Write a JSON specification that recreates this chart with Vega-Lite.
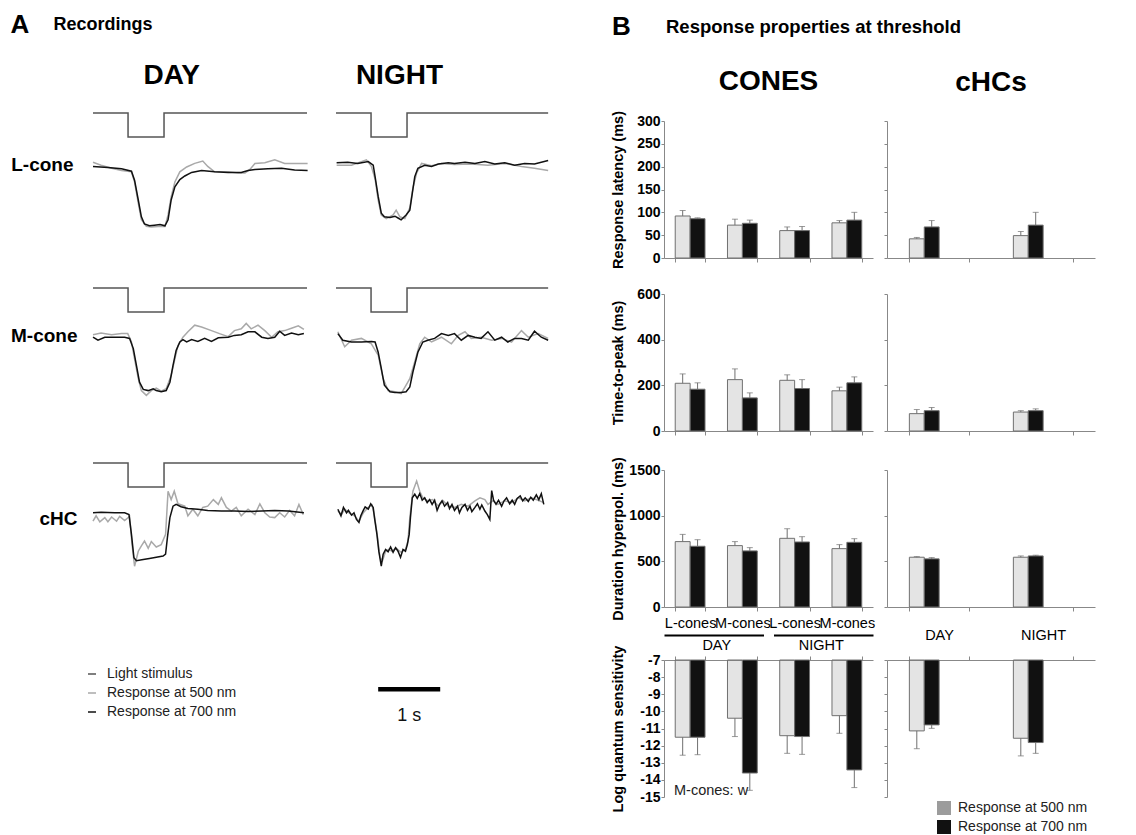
{
"$schema": "https://vega.github.io/schema/vega-lite/v6.json",
"padding": {"left": 10, "top": 12, "right": 5, "bottom": 0},
"background": "white",
"datasets": {
"traces": [
{"cell":"L-cone","cond":"DAY","s":"stim","t":[0,0.565,1.145,3.45],"v":[1,0,1,1]},
{"cell":"L-cone","cond":"NIGHT","s":"stim","t":[0,0.565,1.145,3.42],"v":[1,0,1,1]},
{"cell":"M-cone","cond":"DAY","s":"stim","t":[0,0.565,1.145,3.45],"v":[1,0,1,1]},
{"cell":"M-cone","cond":"NIGHT","s":"stim","t":[0,0.565,1.145,3.42],"v":[1,0,1,1]},
{"cell":"cHC","cond":"DAY","s":"stim","t":[0,0.565,1.145,3.45],"v":[1,0,1,1]},
{"cell":"cHC","cond":"NIGHT","s":"stim","t":[0,0.565,1.145,3.42],"v":[1,0,1,1]},
{"cell":"L-cone","cond":"DAY","s":"700","t":[0,0.24,0.46,0.62,0.67,0.73,0.78,0.83,0.91,0.99,1.08,1.16,1.21,1.26,1.32,1.40,1.48,1.59,1.75,1.96,2.18,2.39,2.50,2.61,2.82,3.04,3.25,3.46],"v":[0.01,-0.01,-0.03,-0.07,-0.22,-0.55,-0.83,-0.95,-0.98,-0.97,-0.96,-0.98,-0.88,-0.55,-0.33,-0.21,-0.15,-0.09,-0.06,-0.08,-0.09,-0.09,-0.06,-0.04,-0.03,-0.02,-0.05,-0.06]},
{"cell":"L-cone","cond":"DAY","s":"500","t":[0,0.13,0.30,0.46,0.62,0.67,0.73,0.78,0.86,0.94,1.05,1.16,1.21,1.26,1.32,1.40,1.51,1.64,1.77,1.85,1.96,2.18,2.34,2.45,2.53,2.61,2.77,2.93,3.09,3.25,3.46],"v":[0.08,0.03,-0.02,-0.06,-0.08,-0.25,-0.6,-0.88,-0.99,-1.0,-0.99,-0.99,-0.8,-0.5,-0.25,-0.08,0.0,0.06,0.10,0.01,-0.08,-0.08,-0.1,-0.1,-0.04,0.06,0.07,0.12,0.06,0.06,0.06]},
{"cell":"L-cone","cond":"NIGHT","s":"700","t":[0.01,0.19,0.35,0.52,0.60,0.63,0.68,0.73,0.78,0.87,0.95,1.00,1.05,1.13,1.19,1.23,1.27,1.32,1.43,1.54,1.65,1.81,1.91,2.08,2.24,2.40,2.56,2.72,2.88,3.04,3.20,3.42],"v":[0.07,0.08,0.06,0.09,0.03,-0.16,-0.49,-0.77,-0.83,-0.84,-0.82,-0.85,-0.88,-0.8,-0.72,-0.44,-0.16,-0.02,0.03,0.01,0.05,0.07,0.06,0.08,0.06,0.09,0.05,0.07,0.03,0.06,0.05,0.11]},
{"cell":"L-cone","cond":"NIGHT","s":"500","t":[0.01,0.25,0.49,0.57,0.63,0.68,0.73,0.81,0.92,0.97,1.03,1.11,1.19,1.24,1.30,1.38,1.54,1.70,1.91,2.18,2.45,2.72,2.99,3.20,3.42],"v":[0.03,0.03,0.12,0.01,-0.2,-0.55,-0.8,-0.86,-0.8,-0.72,-0.83,-0.86,-0.68,-0.35,-0.1,0.06,0.02,0.06,0.04,0.05,0.03,0.06,0.01,-0.02,-0.06]},
{"cell":"M-cone","cond":"DAY","s":"700","t":[0,0.08,0.19,0.35,0.51,0.59,0.65,0.70,0.75,0.81,0.89,0.97,1.02,1.10,1.18,1.24,1.29,1.34,1.40,1.45,1.51,1.59,1.69,1.80,1.91,2.02,2.18,2.28,2.39,2.50,2.61,2.72,2.82,2.93,3.01,3.09,3.20,3.31,3.40],"v":[0.08,0.03,0.08,0.08,0.08,0.06,-0.11,-0.39,-0.67,-0.79,-0.81,-0.78,-0.81,-0.83,-0.81,-0.67,-0.39,-0.14,0.0,0.04,0.0,0.04,0.01,0.06,0.01,0.07,0.08,0.11,0.12,0.17,0.17,0.08,0.06,0.08,0.18,0.11,0.15,0.12,0.14]},
{"cell":"M-cone","cond":"DAY","s":"500","t":[0,0.13,0.30,0.46,0.56,0.62,0.67,0.73,0.78,0.86,0.94,1.02,1.10,1.18,1.26,1.32,1.37,1.45,1.53,1.64,1.75,1.91,2.04,2.18,2.28,2.39,2.47,2.55,2.66,2.77,2.88,2.98,3.09,3.20,3.31,3.40],"v":[0.12,0.15,0.12,0.14,0.14,0.0,-0.28,-0.61,-0.81,-0.89,-0.81,-0.77,-0.82,-0.78,-0.56,-0.28,-0.06,0.08,0.17,0.28,0.25,0.19,0.14,0.09,0.19,0.22,0.31,0.22,0.28,0.19,0.08,0.17,0.19,0.23,0.27,0.21]},
{"cell":"M-cone","cond":"NIGHT","s":"700","t":[0.03,0.11,0.25,0.41,0.57,0.63,0.68,0.73,0.78,0.87,0.95,1.05,1.13,1.19,1.24,1.32,1.40,1.48,1.59,1.70,1.81,1.91,2.02,2.13,2.24,2.34,2.45,2.56,2.67,2.77,2.88,2.99,3.10,3.20,3.31,3.42],"v":[0.14,0.03,0.0,0.0,0.01,0.0,-0.17,-0.44,-0.72,-0.83,-0.84,-0.84,-0.83,-0.75,-0.5,-0.17,0.0,0.03,0.06,0.14,0.11,0.14,0.03,0.11,0.08,0.06,0.17,0.03,0.08,0.0,0.06,0.06,0.03,0.18,0.08,0.03]},
{"cell":"M-cone","cond":"NIGHT","s":"500","t":[0.03,0.14,0.25,0.41,0.57,0.68,0.76,0.84,0.95,1.05,1.13,1.19,1.27,1.35,1.43,1.54,1.70,1.86,1.97,2.08,2.18,2.34,2.51,2.67,2.83,2.99,3.10,3.26,3.42],"v":[0.17,-0.08,0.03,0.06,-0.03,-0.22,-0.61,-0.81,-0.83,-0.86,-0.72,-0.61,-0.33,-0.03,0.08,0.0,0.08,-0.03,0.11,0.17,0.06,0.08,0.03,0.06,0.0,0.19,0.08,0.14,0.06]},
{"cell":"cHC","cond":"DAY","s":"700","t":[0,0.13,0.35,0.51,0.58,0.62,0.66,0.70,0.81,0.91,1.02,1.13,1.17,1.20,1.24,1.29,1.34,1.42,1.53,1.69,1.85,2.07,2.28,2.50,2.72,2.93,3.15,3.40],"v":[0.07,0.08,0.07,0.07,0.04,-0.29,-0.68,-0.73,-0.71,-0.69,-0.67,-0.65,-0.62,-0.34,-0.01,0.18,0.21,0.17,0.14,0.13,0.11,0.10,0.10,0.09,0.10,0.11,0.10,0.07]},
{"cell":"cHC","cond":"DAY","s":"500","t":[0,0.05,0.11,0.19,0.24,0.30,0.38,0.43,0.51,0.59,0.63,0.67,0.73,0.78,0.83,0.89,0.94,1.02,1.10,1.17,1.21,1.26,1.31,1.37,1.48,1.53,1.61,1.69,1.77,1.85,1.94,2.02,2.07,2.15,2.23,2.31,2.39,2.50,2.61,2.69,2.77,2.85,2.93,3.01,3.09,3.17,3.25,3.32,3.39],"v":[-0.07,0.02,-0.08,-0.01,-0.08,0.0,-0.07,0.01,-0.06,0.01,-0.46,-0.82,-0.57,-0.48,-0.4,-0.52,-0.41,-0.5,-0.46,-0.29,0.43,0.29,0.43,0.22,0.18,0.02,0.13,0.02,0.16,0.18,0.29,0.21,0.32,0.16,0.1,0.16,0.02,0.13,0.04,0.22,0.07,0.0,-0.01,0.07,0.0,0.11,0.02,0.21,0.04]},
{"cell":"cHC","cond":"NIGHT","s":"700","t":[0.03,0.08,0.12,0.17,0.20,0.25,0.29,0.33,0.37,0.40,0.44,0.47,0.52,0.56,0.60,0.62,0.66,0.69,0.73,0.76,0.80,0.84,0.88,0.92,0.96,1.00,1.04,1.08,1.12,1.15,1.18,1.20,1.23,1.27,1.31,1.35,1.39,1.43,1.47,1.51,1.55,1.59,1.63,1.67,1.71,1.75,1.80,1.83,1.87,1.91,1.96,1.99,2.03,2.08,2.12,2.16,2.19,2.24,2.28,2.32,2.35,2.40,2.44,2.48,2.51,2.54,2.58,2.62,2.67,2.71,2.75,2.80,2.84,2.88,2.92,2.97,3.01,3.05,3.10,3.14,3.18,3.23,3.27,3.31,3.35],"v":[0.13,0.02,0.16,0.07,0.11,0.03,0.07,-0.04,-0.09,0.02,0.11,0.17,0.13,0.22,0.16,-0.01,-0.29,-0.57,-0.82,-0.62,-0.54,-0.58,-0.5,-0.59,-0.51,-0.57,-0.67,-0.54,-0.57,-0.46,-0.29,-0.01,0.32,0.38,0.31,0.39,0.28,0.32,0.24,0.29,0.21,0.28,0.11,0.21,0.27,0.18,0.24,0.14,0.21,0.11,0.18,0.07,0.16,0.21,0.11,0.18,0.09,0.16,0.22,0.13,0.2,0.1,0.04,-0.04,0.44,0.28,0.21,0.28,0.18,0.27,0.32,0.22,0.28,0.21,0.31,0.35,0.27,0.32,0.26,0.33,0.28,0.37,0.29,0.39,0.21]},
{"cell":"cHC","cond":"NIGHT","s":"500","t":[0.03,0.09,0.14,0.22,0.30,0.37,0.44,0.52,0.58,0.62,0.67,0.71,0.75,0.80,0.85,0.90,0.97,1.05,1.12,1.16,1.19,1.24,1.30,1.35,1.40,1.48,1.56,1.65,1.73,1.81,1.91,2.02,2.13,2.24,2.32,2.40,2.45,2.53,2.61,2.72,2.83,2.94,3.04,3.15,3.26,3.35],"v":[0.10,0.04,0.13,0.06,0.02,-0.07,0.07,0.16,0.2,0.02,-0.34,-0.68,-0.73,-0.57,-0.54,-0.57,-0.52,-0.59,-0.54,-0.4,-0.01,0.43,0.6,0.43,0.32,0.27,0.29,0.18,0.27,0.18,0.16,0.21,0.18,0.27,0.32,0.29,0.21,0.27,0.21,0.27,0.24,0.32,0.27,0.32,0.28,0.24]},
{"cell":"cHC","cond":"NIGHT","s":"bar","t":[0.68],"v":[-2.87],"t2":1.68,"tm":1.18}
],
"bars": [
{"m":"lat","cell":"cones","grp":"L-cones DAY","cond":"DAY","wave":"500 nm","value":92,"hi":104},
{"m":"lat","cell":"cones","grp":"L-cones DAY","cond":"DAY","wave":"700 nm","value":86,"hi":88},
{"m":"lat","cell":"cones","grp":"M-cones DAY","cond":"DAY","wave":"500 nm","value":72,"hi":85},
{"m":"lat","cell":"cones","grp":"M-cones DAY","cond":"DAY","wave":"700 nm","value":76,"hi":83},
{"m":"lat","cell":"cones","grp":"L-cones NIGHT","cond":"NIGHT","wave":"500 nm","value":60,"hi":68},
{"m":"lat","cell":"cones","grp":"L-cones NIGHT","cond":"NIGHT","wave":"700 nm","value":60,"hi":69},
{"m":"lat","cell":"cones","grp":"M-cones NIGHT","cond":"NIGHT","wave":"500 nm","value":77,"hi":82},
{"m":"lat","cell":"cones","grp":"M-cones NIGHT","cond":"NIGHT","wave":"700 nm","value":83,"hi":100},
{"m":"lat","cell":"cHCs","grp":"DAY","cond":"DAY","wave":"500 nm","value":42,"hi":45},
{"m":"lat","cell":"cHCs","grp":"DAY","cond":"DAY","wave":"700 nm","value":68,"hi":82},
{"m":"lat","cell":"cHCs","grp":"NIGHT","cond":"NIGHT","wave":"500 nm","value":49,"hi":58},
{"m":"lat","cell":"cHCs","grp":"NIGHT","cond":"NIGHT","wave":"700 nm","value":72,"hi":100},
{"m":"ttp","cell":"cones","grp":"L-cones DAY","cond":"DAY","wave":"500 nm","value":209,"hi":250},
{"m":"ttp","cell":"cones","grp":"L-cones DAY","cond":"DAY","wave":"700 nm","value":183,"hi":211},
{"m":"ttp","cell":"cones","grp":"M-cones DAY","cond":"DAY","wave":"500 nm","value":225,"hi":272},
{"m":"ttp","cell":"cones","grp":"M-cones DAY","cond":"DAY","wave":"700 nm","value":145,"hi":167},
{"m":"ttp","cell":"cones","grp":"L-cones NIGHT","cond":"NIGHT","wave":"500 nm","value":222,"hi":246},
{"m":"ttp","cell":"cones","grp":"L-cones NIGHT","cond":"NIGHT","wave":"700 nm","value":186,"hi":225},
{"m":"ttp","cell":"cones","grp":"M-cones NIGHT","cond":"NIGHT","wave":"500 nm","value":176,"hi":192},
{"m":"ttp","cell":"cones","grp":"M-cones NIGHT","cond":"NIGHT","wave":"700 nm","value":211,"hi":237},
{"m":"ttp","cell":"cHCs","grp":"DAY","cond":"DAY","wave":"500 nm","value":76,"hi":94},
{"m":"ttp","cell":"cHCs","grp":"DAY","cond":"DAY","wave":"700 nm","value":89,"hi":103},
{"m":"ttp","cell":"cHCs","grp":"NIGHT","cond":"NIGHT","wave":"500 nm","value":83,"hi":89},
{"m":"ttp","cell":"cHCs","grp":"NIGHT","cond":"NIGHT","wave":"700 nm","value":89,"hi":97},
{"m":"dur","cell":"cones","grp":"L-cones DAY","cond":"DAY","wave":"500 nm","value":716,"hi":795},
{"m":"dur","cell":"cones","grp":"L-cones DAY","cond":"DAY","wave":"700 nm","value":665,"hi":737},
{"m":"dur","cell":"cones","grp":"M-cones DAY","cond":"DAY","wave":"500 nm","value":672,"hi":716},
{"m":"dur","cell":"cones","grp":"M-cones DAY","cond":"DAY","wave":"700 nm","value":614,"hi":650},
{"m":"dur","cell":"cones","grp":"L-cones NIGHT","cond":"NIGHT","wave":"500 nm","value":752,"hi":857},
{"m":"dur","cell":"cones","grp":"L-cones NIGHT","cond":"NIGHT","wave":"700 nm","value":712,"hi":770},
{"m":"dur","cell":"cones","grp":"M-cones NIGHT","cond":"NIGHT","wave":"500 nm","value":639,"hi":683},
{"m":"dur","cell":"cones","grp":"M-cones NIGHT","cond":"NIGHT","wave":"700 nm","value":708,"hi":748},
{"m":"dur","cell":"cHCs","grp":"DAY","cond":"DAY","wave":"500 nm","value":545,"hi":552},
{"m":"dur","cell":"cHCs","grp":"DAY","cond":"DAY","wave":"700 nm","value":527,"hi":541},
{"m":"dur","cell":"cHCs","grp":"NIGHT","cond":"NIGHT","wave":"500 nm","value":545,"hi":559},
{"m":"dur","cell":"cHCs","grp":"NIGHT","cond":"NIGHT","wave":"700 nm","value":559,"hi":567},
{"m":"sens","cell":"cones","grp":"L-cones DAY","cond":"DAY","wave":"500 nm","value":-11.51,"hi":-12.56},
{"m":"sens","cell":"cones","grp":"L-cones DAY","cond":"DAY","wave":"700 nm","value":-11.51,"hi":-12.53},
{"m":"sens","cell":"cones","grp":"M-cones DAY","cond":"DAY","wave":"500 nm","value":-10.40,"hi":-11.47},
{"m":"sens","cell":"cones","grp":"M-cones DAY","cond":"DAY","wave":"700 nm","value":-13.60,"hi":-14.61},
{"m":"sens","cell":"cones","grp":"L-cones NIGHT","cond":"NIGHT","wave":"500 nm","value":-11.42,"hi":-12.45},
{"m":"sens","cell":"cones","grp":"L-cones NIGHT","cond":"NIGHT","wave":"700 nm","value":-11.47,"hi":-12.51},
{"m":"sens","cell":"cones","grp":"M-cones NIGHT","cond":"NIGHT","wave":"500 nm","value":-10.25,"hi":-11.28},
{"m":"sens","cell":"cones","grp":"M-cones NIGHT","cond":"NIGHT","wave":"700 nm","value":-13.42,"hi":-14.45},
{"m":"sens","cell":"cHCs","grp":"DAY","cond":"DAY","wave":"500 nm","value":-11.14,"hi":-12.18},
{"m":"sens","cell":"cHCs","grp":"DAY","cond":"DAY","wave":"700 nm","value":-10.79,"hi":-10.99},
{"m":"sens","cell":"cHCs","grp":"NIGHT","cond":"NIGHT","wave":"500 nm","value":-11.57,"hi":-12.60},
{"m":"sens","cell":"cHCs","grp":"NIGHT","cond":"NIGHT","wave":"700 nm","value":-11.82,"hi":-12.45}
]
},
"concat": [
{
"title": {"text": "A", "anchor": "start", "fontSize": 26, "fontWeight": "bold", "offset": 0, "dy": 22},
"vconcat": [{
"title": {"text": "Recordings", "anchor": "start", "fontSize": 18, "fontWeight": "bold", "dx": 43, "offset": 28},
"data": {"name": "traces"},
"spacing": 52,
"vconcat": [
{"hconcat": [
 {"width": 214, "height": 120,
  "title": {"text": "DAY", "fontSize": 28, "fontWeight": "bold", "anchor": "middle", "align": "right", "frame": "group", "offset": 20},
  "transform": [{"filter": "datum.cell == 'L-cone' && datum.cond == 'DAY'"}, {"flatten": ["t", "v"]}],
  "layer": [
   {"transform": [{"filter": "datum.s == 'stim'"}], "mark": {"type": "line", "interpolate": "step-after", "strokeWidth": 1.5},
    "encoding": {"x": {"field": "t", "type": "quantitative", "axis": null, "scale": {"domain": [0, 3.45], "nice": false, "zero": false}},
     "y": {"field": "v", "type": "quantitative", "axis": null, "scale": {"domain": [0, 1], "range": [24, 0], "nice": false, "zero": false}},
     "color": {"field": "s", "type": "nominal", "scale": {"domain": ["stim", "500", "700"], "range": ["#555555", "#a9a9a9", "#111111"]},
      "legend": {"title": null, "orient": "none", "legendX": -8, "legendY": 554, "direction": "vertical", "symbolType": "stroke", "symbolSize": 64, "symbolStrokeWidth": 1.5, "labelFontSize": 14, "labelColor": "#222", "labelOffset": 8, "rowPadding": 5, "labelExpr": "datum.label == 'stim' ? 'Light stimulus' : 'Response at ' + datum.label + ' nm'"}}}},
   {"layer": [
    {"transform": [{"filter": "datum.s == '500'"}], "mark": {"type": "line", "strokeWidth": 1.5},
     "encoding": {"x": {"field": "t", "type": "quantitative"},
      "y": {"field": "v", "type": "quantitative", "scale": {"domain": [-1.1, 0.4], "range": [120, 30], "nice": false, "zero": false},
       "axis": {"orient": "left", "title": "L-cone", "titleAngle": 0, "titleAlign": "right", "titleBaseline": "middle", "titleX": -20, "titleY": 51, "titleFontSize": 19, "titleFontWeight": "bold", "titleColor": "#000", "domain": false, "ticks": false, "labels": false, "grid": false}},
      "color": {"field": "s", "type": "nominal"}}},
    {"transform": [{"filter": "datum.s == '700'"}], "mark": {"type": "line", "strokeWidth": 1.5},
     "encoding": {"x": {"field": "t", "type": "quantitative"}, "y": {"field": "v", "type": "quantitative"}, "color": {"field": "s", "type": "nominal"}}}
   ]}
  ],
  "resolve": {"scale": {"y": "independent"}}},
 {"width": 214, "height": 120,
  "title": {"text": "NIGHT", "fontSize": 28, "fontWeight": "bold", "anchor": "middle", "align": "right", "frame": "group", "offset": 20},
  "transform": [{"filter": "datum.cell == 'L-cone' && datum.cond == 'NIGHT'"}, {"flatten": ["t", "v"]}],
  "layer": [
   {"transform": [{"filter": "datum.s == 'stim'"}], "mark": {"type": "line", "interpolate": "step-after", "strokeWidth": 1.5},
    "encoding": {"x": {"field": "t", "type": "quantitative", "axis": null, "scale": {"domain": [0, 3.45], "nice": false, "zero": false}},
     "y": {"field": "v", "type": "quantitative", "axis": null, "scale": {"domain": [0, 1], "range": [24, 0], "nice": false, "zero": false}},
     "color": {"field": "s", "type": "nominal"}}},
   {"layer": [
    {"transform": [{"filter": "datum.s == '500'"}], "mark": {"type": "line", "strokeWidth": 1.5},
     "encoding": {"x": {"field": "t", "type": "quantitative"},
      "y": {"field": "v", "type": "quantitative", "axis": null, "scale": {"domain": [-1.1, 0.4], "range": [120, 30], "nice": false, "zero": false}},
      "color": {"field": "s", "type": "nominal"}}},
    {"transform": [{"filter": "datum.s == '700'"}], "mark": {"type": "line", "strokeWidth": 1.5},
     "encoding": {"x": {"field": "t", "type": "quantitative"}, "y": {"field": "v", "type": "quantitative"}, "color": {"field": "s", "type": "nominal"}}}
   ]}
  ],
  "resolve": {"scale": {"y": "independent"}}}
], "spacing": 29, "bounds": "flush"},
{"hconcat": [
 {"width": 214, "height": 120,
  "transform": [{"filter": "datum.cell == 'M-cone' && datum.cond == 'DAY'"}, {"flatten": ["t", "v"]}],
  "layer": [
   {"transform": [{"filter": "datum.s == 'stim'"}], "mark": {"type": "line", "interpolate": "step-after", "strokeWidth": 1.5},
    "encoding": {"x": {"field": "t", "type": "quantitative", "axis": null, "scale": {"domain": [0, 3.45], "nice": false, "zero": false}},
     "y": {"field": "v", "type": "quantitative", "axis": null, "scale": {"domain": [0, 1], "range": [24, 0], "nice": false, "zero": false}},
     "color": {"field": "s", "type": "nominal"}}},
   {"layer": [
    {"transform": [{"filter": "datum.s == '500'"}], "mark": {"type": "line", "strokeWidth": 1.5},
     "encoding": {"x": {"field": "t", "type": "quantitative"},
      "y": {"field": "v", "type": "quantitative", "scale": {"domain": [-1.1, 0.4], "range": [120, 30], "nice": false, "zero": false},
       "axis": {"orient": "left", "title": "M-cone", "titleAngle": 0, "titleAlign": "right", "titleBaseline": "middle", "titleX": -16, "titleY": 47, "titleFontSize": 19, "titleFontWeight": "bold", "titleColor": "#000", "domain": false, "ticks": false, "labels": false, "grid": false}},
      "color": {"field": "s", "type": "nominal"}}},
    {"transform": [{"filter": "datum.s == '700'"}], "mark": {"type": "line", "strokeWidth": 1.5},
     "encoding": {"x": {"field": "t", "type": "quantitative"}, "y": {"field": "v", "type": "quantitative"}, "color": {"field": "s", "type": "nominal"}}}
   ]}
  ],
  "resolve": {"scale": {"y": "independent"}}},
 {"width": 214, "height": 120,
  "transform": [{"filter": "datum.cell == 'M-cone' && datum.cond == 'NIGHT'"}, {"flatten": ["t", "v"]}],
  "layer": [
   {"transform": [{"filter": "datum.s == 'stim'"}], "mark": {"type": "line", "interpolate": "step-after", "strokeWidth": 1.5},
    "encoding": {"x": {"field": "t", "type": "quantitative", "axis": null, "scale": {"domain": [0, 3.45], "nice": false, "zero": false}},
     "y": {"field": "v", "type": "quantitative", "axis": null, "scale": {"domain": [0, 1], "range": [24, 0], "nice": false, "zero": false}},
     "color": {"field": "s", "type": "nominal"}}},
   {"layer": [
    {"transform": [{"filter": "datum.s == '500'"}], "mark": {"type": "line", "strokeWidth": 1.5},
     "encoding": {"x": {"field": "t", "type": "quantitative"},
      "y": {"field": "v", "type": "quantitative", "axis": null, "scale": {"domain": [-1.1, 0.4], "range": [120, 30], "nice": false, "zero": false}},
      "color": {"field": "s", "type": "nominal"}}},
    {"transform": [{"filter": "datum.s == '700'"}], "mark": {"type": "line", "strokeWidth": 1.5},
     "encoding": {"x": {"field": "t", "type": "quantitative"}, "y": {"field": "v", "type": "quantitative"}, "color": {"field": "s", "type": "nominal"}}}
   ]}
  ],
  "resolve": {"scale": {"y": "independent"}}}
], "spacing": 29, "bounds": "flush"},
{"hconcat": [
 {"width": 214, "height": 120,
  "transform": [{"filter": "datum.cell == 'cHC' && datum.cond == 'DAY'"}, {"flatten": ["t", "v"]}],
  "layer": [
   {"transform": [{"filter": "datum.s == 'stim'"}], "mark": {"type": "line", "interpolate": "step-after", "strokeWidth": 1.5},
    "encoding": {"x": {"field": "t", "type": "quantitative", "axis": null, "scale": {"domain": [0, 3.45], "nice": false, "zero": false}},
     "y": {"field": "v", "type": "quantitative", "axis": null, "scale": {"domain": [0, 1], "range": [24, 0], "nice": false, "zero": false}},
     "color": {"field": "s", "type": "nominal"}}},
   {"layer": [
    {"transform": [{"filter": "datum.s == '500'"}], "mark": {"type": "line", "strokeWidth": 1.5},
     "encoding": {"x": {"field": "t", "type": "quantitative"},
      "y": {"field": "v", "type": "quantitative", "scale": {"domain": [-1.1, 0.4], "range": [120, 30], "nice": false, "zero": false},
       "axis": {"orient": "left", "title": "cHC", "titleAngle": 0, "titleAlign": "right", "titleBaseline": "middle", "titleX": -16, "titleY": 55, "titleFontSize": 19, "titleFontWeight": "bold", "titleColor": "#000", "domain": false, "ticks": false, "labels": false, "grid": false}},
      "color": {"field": "s", "type": "nominal"}}},
    {"transform": [{"filter": "datum.s == '700'"}], "mark": {"type": "line", "strokeWidth": 1.5},
     "encoding": {"x": {"field": "t", "type": "quantitative"}, "y": {"field": "v", "type": "quantitative"}, "color": {"field": "s", "type": "nominal"}}}
   ]}
  ],
  "resolve": {"scale": {"y": "independent"}}},
 {"width": 214, "height": 120,
  "transform": [{"filter": "datum.cell == 'cHC' && datum.cond == 'NIGHT'"}, {"flatten": ["t", "v"]}],
  "layer": [
   {"transform": [{"filter": "datum.s == 'stim'"}], "mark": {"type": "line", "interpolate": "step-after", "strokeWidth": 1.5},
    "encoding": {"x": {"field": "t", "type": "quantitative", "axis": null, "scale": {"domain": [0, 3.45], "nice": false, "zero": false}},
     "y": {"field": "v", "type": "quantitative", "axis": null, "scale": {"domain": [0, 1], "range": [24, 0], "nice": false, "zero": false}},
     "color": {"field": "s", "type": "nominal"}}},
   {"layer": [
    {"transform": [{"filter": "datum.s == '500'"}], "mark": {"type": "line", "strokeWidth": 1.5},
     "encoding": {"x": {"field": "t", "type": "quantitative"},
      "y": {"field": "v", "type": "quantitative", "axis": null, "scale": {"domain": [-1.1, 0.4], "range": [120, 30], "nice": false, "zero": false}},
      "color": {"field": "s", "type": "nominal"}}},
    {"transform": [{"filter": "datum.s == '700'"}], "mark": {"type": "line", "strokeWidth": 1.5},
     "encoding": {"x": {"field": "t", "type": "quantitative"}, "y": {"field": "v", "type": "quantitative"}, "color": {"field": "s", "type": "nominal"}}},
    {"transform": [{"filter": "datum.s == 'bar'"}], "mark": {"type": "rule", "strokeWidth": 4.5, "color": "#000"},
     "encoding": {"x": {"field": "t", "type": "quantitative"}, "x2": {"field": "t2"}, "y": {"field": "v", "type": "quantitative"}}},
    {"transform": [{"filter": "datum.s == 'bar'"}], "mark": {"type": "text", "fontSize": 18, "dy": 27, "color": "#111"},
     "encoding": {"x": {"field": "tm", "type": "quantitative"}, "y": {"field": "v", "type": "quantitative"}, "text": {"value": "1 s"}}}
   ]}
  ],
  "resolve": {"scale": {"y": "independent"}}}
], "spacing": 29, "bounds": "flush"}
]
}]
},
{
"title": {"text": "B", "anchor": "start", "fontSize": 26, "fontWeight": "bold", "offset": 0, "dy": 22, "dx": 2},
"resolve": {"scale": {"color": "independent"}},
"vconcat": [{
"title": {"text": "Response properties at threshold", "anchor": "start", "fontSize": 18.5, "fontWeight": "bold", "dx": 56, "offset": 31},
"spacing": -7,
"resolve": {"scale": {"color": "independent"}},
"vconcat": [
{"vconcat": [
 {"hconcat": [
  {"title": {"text": "CONES", "fontSize": 28, "fontWeight": "bold", "anchor": "middle", "frame": "group", "offset": 15},
   "width": 209, "height": 145, "data": {"name": "bars"},
   "transform": [{"filter": "datum.m == 'lat' && datum.cell == 'cones'"}],
   "encoding": {
    "x": {"field": "grp", "type": "nominal", "sort": ["L-cones DAY", "M-cones DAY", "L-cones NIGHT", "M-cones NIGHT"], "scale": {"paddingInner": 0.43, "paddingOuter": 0.215}, "axis": {"title": null, "labels": false, "tickBand": "extent", "tickSize": 4, "tickColor": "#888", "domainColor": "#888"}},
    "xOffset": {"field": "wave", "type": "nominal", "sort": ["500 nm", "700 nm"]}},
   "layer": [
    {"mark": {"type": "bar", "stroke": "#707070", "strokeWidth": 1},
     "encoding": {"y": {"field": "value", "type": "quantitative", "scale": {"domain": [0, 300], "range": [145, 8], "nice": false}, "axis": {"title": "Response latency (ms)", "values": [0, 50, 100, 150, 200, 250, 300], "tickCount": 20, "format": "d", "labelOverlap": false, "labelFontSize": 14, "labelFontWeight": "bold", "labelColor": "#000", "labelPadding": 1, "tickSize": 3, "tickColor": "#888", "domainColor": "#888", "titleFontSize": 14.5, "titleFontWeight": "bold", "titleColor": "#000", "titlePadding": 3, "minExtent": 36, "maxExtent": 36}},
      "color": {"field": "wave", "type": "nominal", "scale": {"domain": ["500 nm", "700 nm"], "range": ["#9c9c9c", "#111111"]}, "legend": null},
      "fillOpacity": {"field": "wave", "type": "nominal", "scale": {"domain": ["500 nm", "700 nm"], "range": [0.27, 1]}, "legend": null}}},
    {"mark": {"type": "rule", "color": "#707070"}, "encoding": {"y": {"field": "value", "type": "quantitative", "scale": {"domain": [0, 300], "range": [145, 8], "nice": false}}, "y2": {"field": "hi"}}},
    {"mark": {"type": "tick", "color": "#707070", "thickness": 1, "size": 6}, "encoding": {"y": {"field": "hi", "type": "quantitative", "scale": {"domain": [0, 300], "range": [145, 8], "nice": false}}}}
   ]},
  {"title": {"text": "cHCs", "fontSize": 28, "fontWeight": "bold", "anchor": "middle", "frame": "group", "offset": 16},
   "width": 208, "height": 145, "data": {"name": "bars"},
   "transform": [{"filter": "datum.m == 'lat' && datum.cell == 'cHCs'"}],
   "encoding": {
    "x": {"field": "grp", "type": "nominal", "sort": ["DAY", "NIGHT"], "scale": {"paddingInner": 0.43, "paddingOuter": 0.215}, "axis": {"title": null, "labels": false, "tickBand": "extent", "tickSize": 4, "tickColor": "#888", "domainColor": "#888"}},
    "xOffset": {"field": "wave", "type": "nominal", "sort": ["500 nm", "700 nm"]}},
   "layer": [
    {"mark": {"type": "bar", "stroke": "#707070", "strokeWidth": 1},
     "encoding": {"y": {"field": "value", "type": "quantitative", "scale": {"domain": [0, 300], "range": [145, 8], "nice": false}, "axis": {"title": null, "labels": false, "values": [0, 50, 100, 150, 200, 250, 300], "tickCount": 20, "tickSize": 3, "tickColor": "#888", "domainColor": "#888", "minExtent": 3, "maxExtent": 3}},
      "color": {"field": "wave", "type": "nominal", "scale": {"domain": ["500 nm", "700 nm"], "range": ["#9c9c9c", "#111111"]}, "legend": null},
      "fillOpacity": {"field": "wave", "type": "nominal", "scale": {"domain": ["500 nm", "700 nm"], "range": [0.27, 1]}, "legend": null}}},
    {"mark": {"type": "rule", "color": "#707070"}, "encoding": {"y": {"field": "value", "type": "quantitative", "scale": {"domain": [0, 300], "range": [145, 8], "nice": false}}, "y2": {"field": "hi"}}},
    {"mark": {"type": "tick", "color": "#707070", "thickness": 1, "size": 6}, "encoding": {"y": {"field": "hi", "type": "quantitative", "scale": {"domain": [0, 300], "range": [145, 8], "nice": false}}}}
   ]}
 ], "spacing": 14, "bounds": "flush", "resolve": {"scale": {"color": "independent"}}},
 {"hconcat": [
  {"width": 209, "height": 137, "data": {"name": "bars"},
   "transform": [{"filter": "datum.m == 'ttp' && datum.cell == 'cones'"}],
   "encoding": {
    "x": {"field": "grp", "type": "nominal", "sort": ["L-cones DAY", "M-cones DAY", "L-cones NIGHT", "M-cones NIGHT"], "scale": {"paddingInner": 0.43, "paddingOuter": 0.215}, "axis": {"title": null, "labels": false, "tickBand": "extent", "tickSize": 4, "tickColor": "#888", "domainColor": "#888"}},
    "xOffset": {"field": "wave", "type": "nominal", "sort": ["500 nm", "700 nm"]}},
   "layer": [
    {"mark": {"type": "bar", "stroke": "#707070", "strokeWidth": 1},
     "encoding": {"y": {"field": "value", "type": "quantitative", "scale": {"domain": [0, 600], "nice": false}, "axis": {"title": "Time-to-peak (ms)", "values": [0, 200, 400, 600], "tickCount": 20, "format": "d", "labelOverlap": false, "labelFontSize": 14, "labelFontWeight": "bold", "labelColor": "#000", "labelPadding": 1, "tickSize": 3, "tickColor": "#888", "domainColor": "#888", "titleFontSize": 14.5, "titleFontWeight": "bold", "titleColor": "#000", "titlePadding": 3, "minExtent": 36, "maxExtent": 36}},
      "color": {"field": "wave", "type": "nominal", "scale": {"domain": ["500 nm", "700 nm"], "range": ["#9c9c9c", "#111111"]}, "legend": null},
      "fillOpacity": {"field": "wave", "type": "nominal", "scale": {"domain": ["500 nm", "700 nm"], "range": [0.27, 1]}, "legend": null}}},
    {"mark": {"type": "rule", "color": "#707070"}, "encoding": {"y": {"field": "value", "type": "quantitative", "scale": {"domain": [0, 600], "nice": false}}, "y2": {"field": "hi"}}},
    {"mark": {"type": "tick", "color": "#707070", "thickness": 1, "size": 6}, "encoding": {"y": {"field": "hi", "type": "quantitative", "scale": {"domain": [0, 600], "nice": false}}}}
   ]},
  {"width": 208, "height": 137, "data": {"name": "bars"},
   "transform": [{"filter": "datum.m == 'ttp' && datum.cell == 'cHCs'"}],
   "encoding": {
    "x": {"field": "grp", "type": "nominal", "sort": ["DAY", "NIGHT"], "scale": {"paddingInner": 0.43, "paddingOuter": 0.215}, "axis": {"title": null, "labels": false, "tickBand": "extent", "tickSize": 4, "tickColor": "#888", "domainColor": "#888"}},
    "xOffset": {"field": "wave", "type": "nominal", "sort": ["500 nm", "700 nm"]}},
   "layer": [
    {"mark": {"type": "bar", "stroke": "#707070", "strokeWidth": 1},
     "encoding": {"y": {"field": "value", "type": "quantitative", "scale": {"domain": [0, 600], "nice": false}, "axis": {"title": null, "labels": false, "values": [0, 200, 400, 600], "tickCount": 20, "tickSize": 3, "tickColor": "#888", "domainColor": "#888", "minExtent": 3, "maxExtent": 3}},
      "color": {"field": "wave", "type": "nominal", "scale": {"domain": ["500 nm", "700 nm"], "range": ["#9c9c9c", "#111111"]}, "legend": null},
      "fillOpacity": {"field": "wave", "type": "nominal", "scale": {"domain": ["500 nm", "700 nm"], "range": [0.27, 1]}, "legend": null}}},
    {"mark": {"type": "rule", "color": "#707070"}, "encoding": {"y": {"field": "value", "type": "quantitative", "scale": {"domain": [0, 600], "nice": false}}, "y2": {"field": "hi"}}},
    {"mark": {"type": "tick", "color": "#707070", "thickness": 1, "size": 6}, "encoding": {"y": {"field": "hi", "type": "quantitative", "scale": {"domain": [0, 600], "nice": false}}}}
   ]}
 ], "spacing": 14, "bounds": "flush", "resolve": {"scale": {"color": "independent"}}},
 {"hconcat": [
  {"width": 209, "height": 137, "data": {"name": "bars"},
   "transform": [{"filter": "datum.m == 'dur' && datum.cell == 'cones'"}],
   "layer": [
    {"encoding": {
      "x": {"field": "grp", "type": "nominal", "sort": ["L-cones DAY", "M-cones DAY", "L-cones NIGHT", "M-cones NIGHT"], "scale": {"paddingInner": 0.43, "paddingOuter": 0.215}, "axis": {"title": null, "labelExpr": "split(datum.label, ' ')[0]", "labelAngle": 0, "labelFontSize": 14.5, "labelColor": "#000", "labelPadding": 5, "labelOverlap": false, "tickBand": "extent", "tickSize": 4, "tickColor": "#888", "domainColor": "#888"}},
      "xOffset": {"field": "wave", "type": "nominal", "sort": ["500 nm", "700 nm"]}},
     "layer": [
      {"mark": {"type": "bar", "stroke": "#707070", "strokeWidth": 1},
       "encoding": {"y": {"field": "value", "type": "quantitative", "scale": {"domain": [0, 1500], "nice": false}, "axis": {"title": "Duration hyperpol. (ms)", "values": [0, 500, 1000, 1500], "tickCount": 20, "format": "d", "labelOverlap": false, "labelFontSize": 14, "labelFontWeight": "bold", "labelColor": "#000", "labelPadding": 1, "tickSize": 3, "tickColor": "#888", "domainColor": "#888", "titleFontSize": 14.5, "titleFontWeight": "bold", "titleColor": "#000", "titlePadding": 3, "minExtent": 36, "maxExtent": 36}},
        "color": {"field": "wave", "type": "nominal", "scale": {"domain": ["500 nm", "700 nm"], "range": ["#9c9c9c", "#111111"]}, "legend": null},
        "fillOpacity": {"field": "wave", "type": "nominal", "scale": {"domain": ["500 nm", "700 nm"], "range": [0.27, 1]}, "legend": null}}},
      {"mark": {"type": "rule", "color": "#707070"}, "encoding": {"y": {"field": "value", "type": "quantitative", "scale": {"domain": [0, 1500], "nice": false}}, "y2": {"field": "hi"}}},
      {"mark": {"type": "tick", "color": "#707070", "thickness": 1, "size": 6}, "encoding": {"y": {"field": "hi", "type": "quantitative", "scale": {"domain": [0, 1500], "nice": false}}}}
     ]},
    {"mark": {"type": "point", "opacity": 0},
     "encoding": {"x": {"field": "cond", "type": "nominal", "sort": ["DAY", "NIGHT"], "scale": {"paddingInner": 0, "paddingOuter": 0}, "axis": {"orient": "bottom", "title": null, "offset": 28, "ticks": false, "domainColor": "#000", "domainWidth": 2, "domainDash": [99.5, 10], "labelAngle": 0, "labelFontSize": 14.5, "labelColor": "#000", "labelPadding": 3}}}}
   ],
   "resolve": {"scale": {"x": "independent"}}},
  {"width": 208, "height": 137, "data": {"name": "bars"},
   "transform": [{"filter": "datum.m == 'dur' && datum.cell == 'cHCs'"}],
   "encoding": {
    "x": {"field": "grp", "type": "nominal", "sort": ["DAY", "NIGHT"], "scale": {"paddingInner": 0.43, "paddingOuter": 0.215}, "axis": {"title": null, "labelAngle": 0, "labelFontSize": 14.5, "labelColor": "#000", "labelPadding": 17, "tickBand": "extent", "tickSize": 4, "tickColor": "#888", "domainColor": "#888"}},
    "xOffset": {"field": "wave", "type": "nominal", "sort": ["500 nm", "700 nm"]}},
   "layer": [
    {"mark": {"type": "bar", "stroke": "#707070", "strokeWidth": 1},
     "encoding": {"y": {"field": "value", "type": "quantitative", "scale": {"domain": [0, 1500], "nice": false}, "axis": {"title": null, "labels": false, "values": [0, 500, 1000, 1500], "tickCount": 20, "tickSize": 3, "tickColor": "#888", "domainColor": "#888", "minExtent": 3, "maxExtent": 3}},
      "color": {"field": "wave", "type": "nominal", "scale": {"domain": ["500 nm", "700 nm"], "range": ["#9c9c9c", "#111111"]}, "legend": null},
      "fillOpacity": {"field": "wave", "type": "nominal", "scale": {"domain": ["500 nm", "700 nm"], "range": [0.27, 1]}, "legend": null}}},
    {"mark": {"type": "rule", "color": "#707070"}, "encoding": {"y": {"field": "value", "type": "quantitative", "scale": {"domain": [0, 1500], "nice": false}}, "y2": {"field": "hi"}}},
    {"mark": {"type": "tick", "color": "#707070", "thickness": 1, "size": 6}, "encoding": {"y": {"field": "hi", "type": "quantitative", "scale": {"domain": [0, 1500], "nice": false}}}}
   ]}
 ], "spacing": 14, "bounds": "flush", "resolve": {"scale": {"color": "independent"}}}
], "spacing": 18, "resolve": {"scale": {"color": "independent"}}},
{"hconcat": [
  {"title": {"text": "M-cones: w", "orient": "bottom", "anchor": "start", "frame": "group", "fontSize": 14.5, "fontWeight": "normal", "color": "#222", "offset": -28, "dx": 10},
   "width": 209, "height": 137, "data": {"name": "bars"},
   "transform": [{"filter": "datum.m == 'sens' && datum.cell == 'cones'"}],
   "encoding": {
    "x": {"field": "grp", "type": "nominal", "sort": ["L-cones DAY", "M-cones DAY", "L-cones NIGHT", "M-cones NIGHT"], "scale": {"paddingInner": 0.43, "paddingOuter": 0.215}, "axis": {"orient": "top", "title": null, "labels": false, "tickBand": "extent", "tickSize": 4, "tickColor": "#888", "domainColor": "#888"}},
    "xOffset": {"field": "wave", "type": "nominal", "sort": ["500 nm", "700 nm"]}},
   "layer": [
    {"mark": {"type": "bar", "stroke": "#707070", "strokeWidth": 1},
     "encoding": {"y": {"field": "value", "type": "quantitative", "scale": {"domain": [-15, -7], "nice": false, "zero": false}, "axis": {"title": "Log quantum sensitivity", "values": [-15, -14, -13, -12, -11, -10, -9, -8, -7], "tickCount": 20, "labelExpr": "'' + datum.value", "labelOverlap": false, "labelFontSize": 14, "labelFontWeight": "bold", "labelColor": "#000", "labelPadding": 1, "tickSize": 3, "tickColor": "#888", "domainColor": "#888", "titleFontSize": 14.5, "titleFontWeight": "bold", "titleColor": "#000", "titlePadding": 3, "minExtent": 36, "maxExtent": 36}},
      "y2": {"datum": -7},
      "color": {"field": "wave", "type": "nominal", "scale": {"domain": ["500 nm", "700 nm"], "range": ["#9c9c9c", "#111111"]}, "legend": null},
      "fillOpacity": {"field": "wave", "type": "nominal", "scale": {"domain": ["500 nm", "700 nm"], "range": [0.27, 1]}, "legend": null}}},
    {"mark": {"type": "rule", "color": "#707070"}, "encoding": {"y": {"field": "value", "type": "quantitative", "scale": {"domain": [-15, -7], "nice": false, "zero": false}}, "y2": {"field": "hi"}}},
    {"mark": {"type": "tick", "color": "#707070", "thickness": 1, "size": 6}, "encoding": {"y": {"field": "hi", "type": "quantitative", "scale": {"domain": [-15, -7], "nice": false, "zero": false}}}}
   ]},
  {"width": 208, "height": 137, "data": {"name": "bars"},
   "transform": [{"filter": "datum.m == 'sens' && datum.cell == 'cHCs'"}],
   "encoding": {
    "x": {"field": "grp", "type": "nominal", "sort": ["DAY", "NIGHT"], "scale": {"paddingInner": 0.43, "paddingOuter": 0.215}, "axis": {"orient": "top", "title": null, "labels": false, "tickBand": "extent", "tickSize": 4, "tickColor": "#888", "domainColor": "#888"}},
    "xOffset": {"field": "wave", "type": "nominal", "sort": ["500 nm", "700 nm"]}},
   "layer": [
    {"mark": {"type": "bar", "stroke": "#707070", "strokeWidth": 1},
     "encoding": {"y": {"field": "value", "type": "quantitative", "scale": {"domain": [-15, -7], "nice": false, "zero": false}, "axis": {"title": null, "labels": false, "values": [-15, -14, -13, -12, -11, -10, -9, -8, -7], "tickCount": 20, "tickSize": 3, "tickColor": "#888", "domainColor": "#888", "minExtent": 3, "maxExtent": 3}},
      "y2": {"datum": -7},
      "color": {"field": "wave", "type": "nominal", "scale": {"domain": ["500 nm", "700 nm"], "range": ["#9c9c9c", "#111111"]},
       "legend": {"title": null, "orient": "none", "legendX": 50, "legendY": 141, "symbolType": "square", "symbolSize": 196, "symbolStrokeWidth": 0, "symbolOpacity": 1, "labelFontSize": 14, "labelColor": "#222", "labelOffset": 7, "rowPadding": 5, "labelExpr": "'Response at ' + datum.label"}},
      "fillOpacity": {"field": "wave", "type": "nominal", "scale": {"domain": ["500 nm", "700 nm"], "range": [0.27, 1]}, "legend": null}}},
    {"mark": {"type": "rule", "color": "#707070"}, "encoding": {"y": {"field": "value", "type": "quantitative", "scale": {"domain": [-15, -7], "nice": false, "zero": false}}, "y2": {"field": "hi"}}},
    {"mark": {"type": "tick", "color": "#707070", "thickness": 1, "size": 6}, "encoding": {"y": {"field": "hi", "type": "quantitative", "scale": {"domain": [-15, -7], "nice": false, "zero": false}}}}
   ]}
 ], "spacing": 14, "bounds": "flush", "resolve": {"scale": {"color": "independent"}}}
]
}]
}
],
"columns": 2,
"align": "none",
"spacing": 57,
"resolve": {"scale": {"color": "independent"}},
"config": {
"font": "Liberation Sans",
"view": {"stroke": null},
"axis": {"grid": false, "labelOverlap": false},
"axisY": {"labelOverlap": false},
"title": {"color": "#000"},
"legend": {"labelFont": "Liberation Sans"}
}
}
